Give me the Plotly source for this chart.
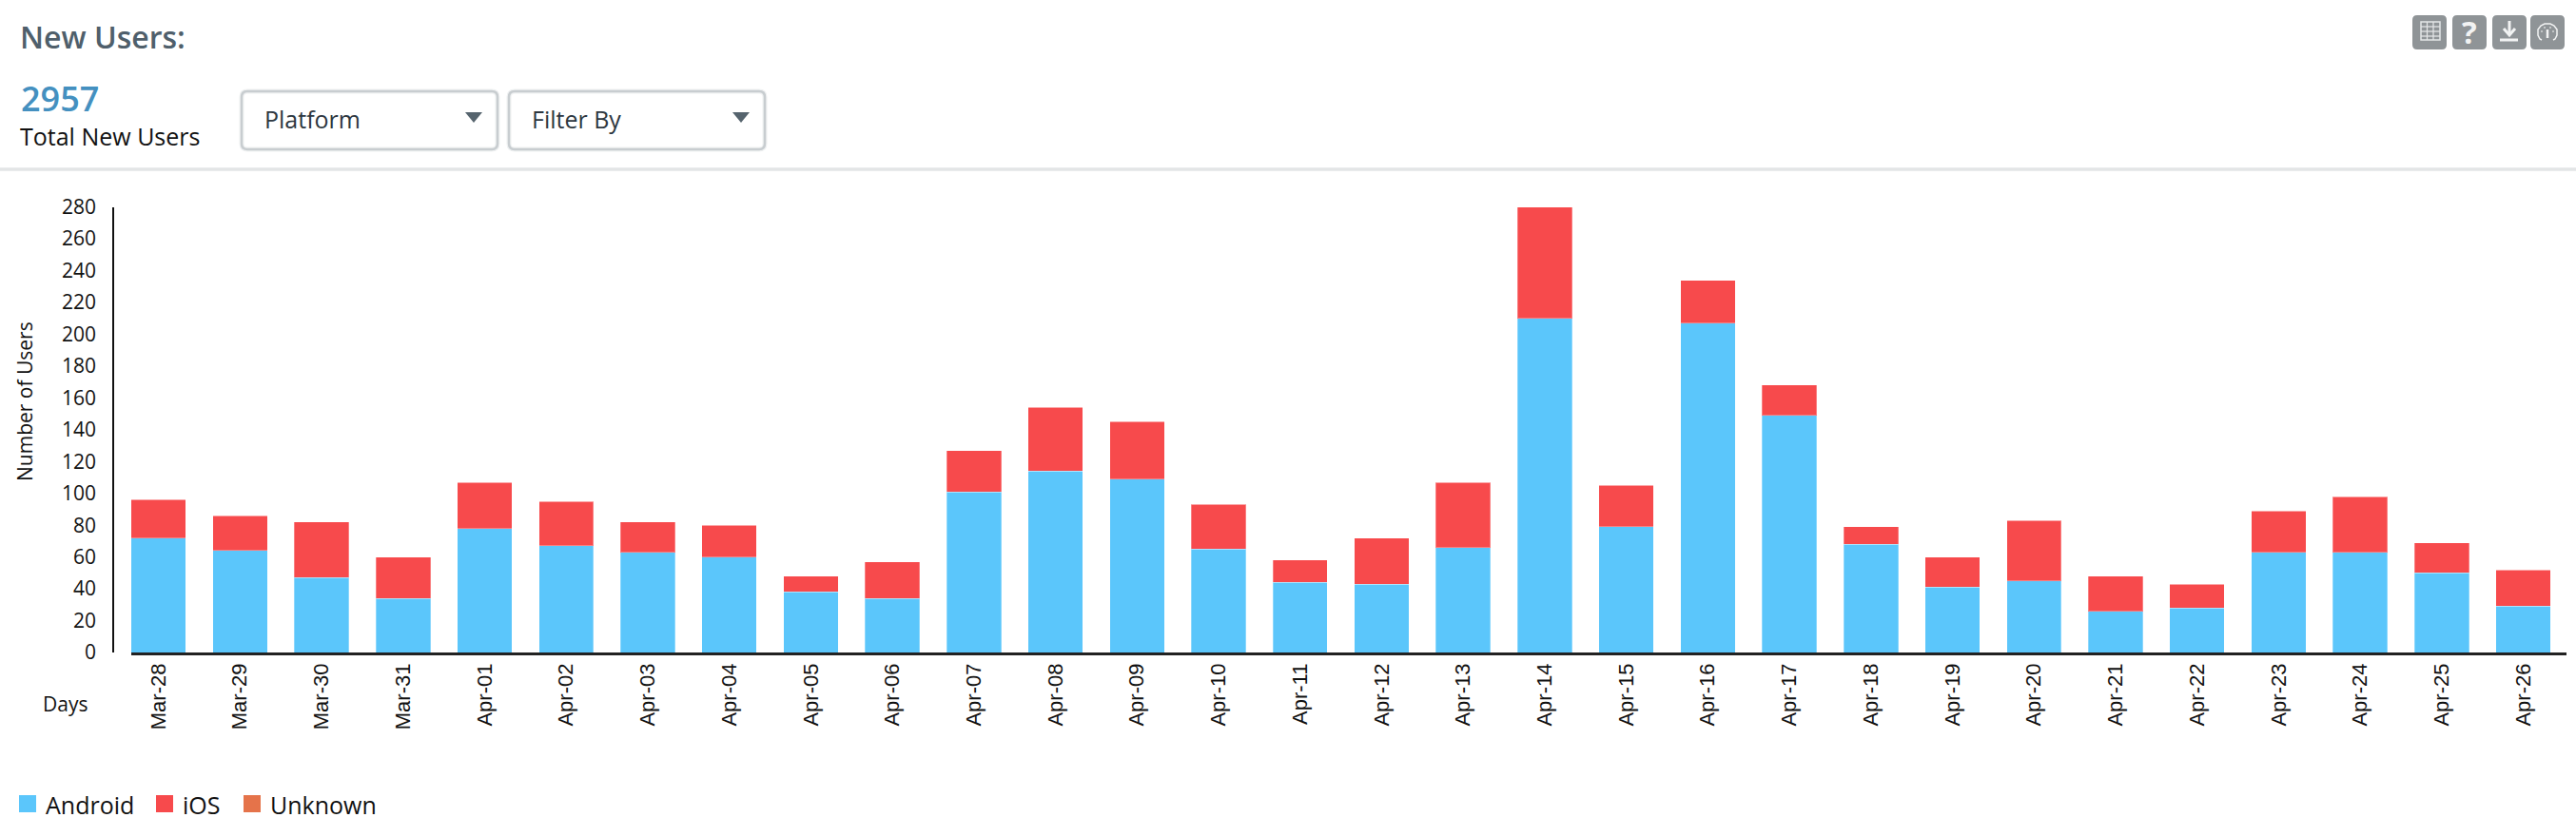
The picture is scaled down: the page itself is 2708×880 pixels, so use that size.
import plotly.graph_objects as go

WIDTH = 2708
HEIGHT = 880

DAYS = ["Mar-28", "Mar-29", "Mar-30", "Mar-31", "Apr-01", "Apr-02", "Apr-03", "Apr-04", "Apr-05", "Apr-06",
        "Apr-07", "Apr-08", "Apr-09", "Apr-10", "Apr-11", "Apr-12", "Apr-13", "Apr-14", "Apr-15", "Apr-16",
        "Apr-17", "Apr-18", "Apr-19", "Apr-20", "Apr-21", "Apr-22", "Apr-23", "Apr-24", "Apr-25", "Apr-26"]
ANDROID = [72, 64, 47, 34, 78, 67, 63, 60, 38, 34, 101, 114, 109, 65, 44,
           43, 66, 210, 79, 207, 149, 68, 41, 45, 26, 28, 63, 63, 50, 29]
IOS = [24, 22, 35, 26, 29, 28, 19, 20, 10, 23, 26, 40, 36, 28, 14,
       29, 41, 70, 26, 27, 19, 11, 19, 38, 22, 15, 26, 35, 19, 23]
UNKNOWN = [0, 0, 0, 0, 0, 0, 0, 0, 0, 0, 0, 0, 0, 0, 0,
           0, 0, 0, 0, 0, 0, 0, 0, 0, 0, 0, 0, 0, 0, 0]
Y_TICKS = [0, 20, 40, 60, 80, 100, 120, 140, 160, 180, 200, 220, 240, 260, 280]

TOTAL_NEW_USERS = "2957"

ANDROID_COLOR = "#5BC6FB"
IOS_COLOR = "#F74A4C"
UNKNOWN_COLOR = "#E5734A"
ICON_COLOR = "#8F9497"
ICON_LINE = "#E4E6E7"
ICON_WHITE = "#F2F3F3"
BORDER_COLOR = "#C8CDD0"
ARROW_COLOR = "#56646E"
FONT = "Open Sans"


def px(x):
    return x / WIDTH


def py(y):
    return 1 - y / HEIGHT


def rect_path(x0, y0, x1, y1, r=0):
    x0, x1 = px(x0), px(x1)
    y0, y1 = py(y0), py(y1)
    rx, ry = r / WIDTH, r / HEIGHT
    return (f"M{x0 + rx},{y0} L{x1 - rx},{y0} Q{x1},{y0} {x1},{y0 - ry} L{x1},{y1 + ry} Q{x1},{y1} {x1 - rx},{y1} "
            f"L{x0 + rx},{y1} Q{x0},{y1} {x0},{y1 + ry} L{x0},{y0 - ry} Q{x0},{y0} {x0 + rx},{y0} Z")


def poly_path(points, closed=False):
    path = "M" + " L".join(f"{px(x)},{py(y)}" for x, y in points)
    return path + " Z" if closed else path


def add_path(fig, path, fill=None, line=None, width=0):
    fig.add_shape(type="path", path=path, xref="paper", yref="paper",
                  fillcolor=fill if fill else "rgba(0,0,0,0)",
                  line=dict(color=line if line else "rgba(0,0,0,0)", width=width))


def add_text(fig, text, x, y, size, color="#111111", xanchor="left", weight=None, family=FONT, angle=0):
    fig.add_annotation(text=text, x=px(x), y=py(y), xref="paper", yref="paper", xanchor=xanchor, yanchor="middle",
                       showarrow=False, borderpad=0, textangle=angle,
                       font=dict(family=family, size=size, color=color, weight=weight))


def add_dropdown(fig, x0, x1, label):
    # soft inner shadow, then the grey border
    add_path(fig, rect_path(x0, 96, x1, 157, 6), fill="white", line="#EFF1F2", width=5)
    add_path(fig, rect_path(x0, 96, x1, 157, 6), line=BORDER_COLOR, width=2.5)
    add_text(fig, label, x0 + 23, 125, 25, color="#2D3740")
    add_path(fig, poly_path([(x1 - 34, 118), (x1 - 16, 118), (x1 - 25, 129)], closed=True), fill=ARROW_COLOR)


def add_icons(fig):
    for x0 in [2536, 2578, 2620, 2660]:
        add_path(fig, rect_path(x0, 16, x0 + 36, 52, 5), fill=ICON_COLOR)

    # table
    add_path(fig, rect_path(2545, 23, 2565, 42), line=ICON_LINE, width=1.5)
    for x in [2551.5, 2558]:
        add_path(fig, poly_path([(x, 23), (x, 42)]), line=ICON_LINE, width=1.25)
    for y in [28, 33, 38]:
        add_path(fig, poly_path([(2545, y), (2565, y)]), line=ICON_LINE, width=1.25)

    # help
    add_text(fig, "?", 2596, 34, 33, color=ICON_WHITE, xanchor="center", weight=700)

    # download
    add_path(fig, poly_path([(2638, 22), (2638, 35)]), line=ICON_WHITE, width=3)
    add_path(fig, poly_path([(2632, 30), (2638, 37), (2644, 30)]), line=ICON_WHITE, width=3)
    add_path(fig, poly_path([(2628, 42), (2647, 42)]), line=ICON_WHITE, width=3)

    # gauge
    add_path(fig, poly_path([(2672, 42), (2670, 41), (2668, 37), (2668, 31), (2671, 27), (2675, 25), (2681, 25),
                             (2685, 27), (2688, 31), (2688, 37), (2686, 41), (2684, 42)]),
             line=ICON_WHITE, width=1.5)
    for x, y in [(2672, 33), (2675, 29), (2681, 29), (2684, 33)]:
        add_path(fig, rect_path(x - 0.7, y - 0.7, x + 0.7, y + 0.7), fill=ICON_WHITE)
    add_path(fig, poly_path([(2678, 31), (2678, 40)]), line=ICON_WHITE, width=2.5)


def add_legend(fig):
    entries = [("Android", ANDROID_COLOR, 20), ("iOS", IOS_COLOR, 164), ("Unknown", UNKNOWN_COLOR, 256)]
    for name, color, x in entries:
        add_path(fig, rect_path(x, 836, x + 18, 854), fill=color)
        add_text(fig, name, x + 27, 846, 25)


fig = go.Figure()
for name, values, color in [("Android", ANDROID, ANDROID_COLOR), ("iOS", IOS, IOS_COLOR),
                            ("Unknown", UNKNOWN, UNKNOWN_COLOR)]:
    fig.add_trace(go.Bar(name=name, x=DAYS, y=values,
                         marker=dict(color=color, line=dict(color="rgba(255,255,255,0.3)", width=1))))

fig.update_layout(
    width=WIDTH,
    height=HEIGHT,
    margin=dict(l=0, r=0, t=0, b=0),
    barmode="stack",
    bargap=0.33,
    showlegend=False,
    plot_bgcolor="white",
    paper_bgcolor="white",
    font=dict(family=FONT, color="#111111"),
)
fig.update_xaxes(
    domain=[px(138), px(2698)],
    type="category",
    range=[-0.334, 29.53],
    tickangle=-90,
    tickfont=dict(family="Liberation Sans", size=22, color="#111111"),
    ticks="",
    ticklabelstandoff=0,
    showgrid=False,
    showline=True,
    linecolor="#222222",
    linewidth=2.5,
    zeroline=False,
    automargin=False,
)
fig.update_yaxes(
    domain=[py(686), py(217.6)],
    range=[0, 280],
    anchor="free",
    position=px(119),
    tickmode="array",
    tickvals=Y_TICKS,
    tickfont=dict(family=FONT, size=21, color="#111111"),
    ticks="",
    ticklabelstandoff=13,
    showgrid=False,
    showline=True,
    linecolor="#111111",
    linewidth=1.5,
    zeroline=False,
    automargin=False,
)

add_text(fig, "New Users:", 20, 38, 32, color="#4F5F6B", weight=600)
add_text(fig, TOTAL_NEW_USERS, 21, 103, 36, color="#4490C0", weight=600)
add_text(fig, "Total New Users", 20, 143, 25)
add_text(fig, "Number of Users", 26, 422, 21, xanchor="center", angle=-90)
add_text(fig, "Days", 68, 740, 21, xanchor="center")
add_dropdown(fig, 254, 523, "Platform")
add_dropdown(fig, 535, 804, "Filter By")
add_path(fig, poly_path([(0, 178), (WIDTH, 178)]), line="#E3E5E6", width=3.5)
add_icons(fig)
add_legend(fig)

fig.write_html("out.html", config=dict(displayModeBar=False), post_script="document.body.style.margin = '0';")
